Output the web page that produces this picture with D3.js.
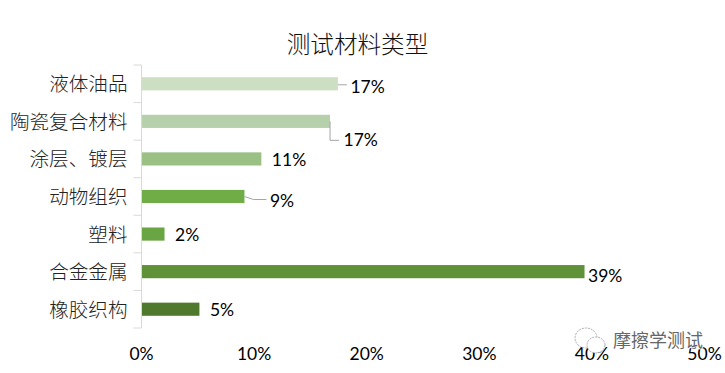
<!DOCTYPE html>
<html>
<head>
<meta charset="utf-8">
<script src="https://cdn.jsdelivr.net/npm/d3@7"></script>
<style>
  html, body { margin: 0; padding: 0; background: #fff; }
  text { font-family: "Noto Sans CJK SC", sans-serif; }
  .num { font-family: Lato, "Open Sans", sans-serif; font-size: 17.5px; fill: #000; }
  .cat { font-size: 19.6px; fill: #222; font-weight: 300; }
</style>
</head>
<body>
<svg id="chart" width="725" height="373" style="display:block"></svg>
<script>
const categories = ['液体油品', '陶瓷复合材料', '涂层、镀层', '动物组织', '塑料', '合金金属', '橡胶织构'];
const values = [17.4, 16.7, 10.6, 9.1, 2.0, 39.3, 5.1];
const valueLabels = ['17%', '17%', '11%', '9%', '2%', '39%', '5%'];
const xTicks = [0, 10, 20, 30, 40, 50];
const barColors = ['#cddfc3', '#b6d0ac', '#9bc085', '#70ad47', '#6aa543', '#5e9138', '#4f7a2e'];

// label placement relative to bar end, some have leader lines like the original
const labelDx = [13, 14, 11, 26, 11, 4, 11];
const labelDy = [2.5, 18.5, 1, 4, 0.5, 4, 0.5];
const leaders = [
  d => `M0,${d + 1}H9`,
  d => `M0,${d}V${d + 19}H9`,
  null,
  d => `M0,${d}L9,${d + 3}H22`,
  null, null, null
];

const svg = d3.select('#chart');
const margin = { top: 65, left: 141.5, right: 20.5, bottom: 45 };
const innerWidth = 725 - margin.left - margin.right;
const innerHeight = 373 - margin.top - margin.bottom;

const x = d3.scaleLinear().domain([0, 50]).range([0, innerWidth]);
const y = d3.scaleBand().domain(categories).range([0, innerHeight]).paddingInner(0.65).paddingOuter(0.325);

svg.append('text')
  .attr('x', 357.5)
  .attr('y', 53)
  .attr('text-anchor', 'middle')
  .style('font-size', '23.6px')
  .style('font-weight', 300)
  .style('fill', '#111')
  .text('测试材料类型');

const g = svg.append('g').attr('transform', `translate(${margin.left},${margin.top})`);

// category axis with ticks between the bands
const step = y.step();
const axisG = g.append('g').attr('stroke', '#d9d9d9').attr('fill', 'none');
axisG.append('path').attr('d', `M0,0V${innerHeight}`);
axisG.selectAll('line')
  .data(d3.range(categories.length + 1))
  .enter()
  .append('line')
  .attr('x1', -8)
  .attr('x2', 0)
  .attr('y1', d => d * step)
  .attr('y2', d => d * step);

g.selectAll('.cat')
  .data(categories)
  .enter()
  .append('text')
  .attr('class', 'cat')
  .attr('x', -14)
  .attr('y', d => y(d) + y.bandwidth() / 2 + 7.5)
  .attr('text-anchor', 'end')
  .text(d => d);

g.selectAll('.bar')
  .data(categories)
  .enter()
  .append('rect')
  .attr('class', 'bar')
  .attr('x', 0.5)
  .attr('y', d => y(d))
  .attr('width', (d, i) => x(values[i]))
  .attr('height', y.bandwidth())
  .attr('fill', (d, i) => barColors[i]);

categories.forEach((c, i) => {
  const mid = y(c) + y.bandwidth() / 2;
  if (leaders[i]) {
    g.append('path')
      .attr('transform', `translate(${x(values[i]) + 0.5},0)`)
      .attr('d', leaders[i](mid))
      .attr('fill', 'none')
      .attr('stroke', '#a6a6a6');
  }
  g.append('text')
    .attr('class', 'num')
    .attr('x', x(values[i]) + labelDx[i])
    .attr('y', mid + 6.5 + labelDy[i])
    .text(valueLabels[i]);
});

g.selectAll('.tick-label')
  .data(xTicks)
  .enter()
  .append('text')
  .attr('class', 'num tick-label')
  .attr('x', d => x(d))
  .attr('y', 295)
  .attr('text-anchor', 'middle')
  .text(d => d + '%');

// watermark
const wm = svg.append('g').attr('transform', 'translate(575,328)');
wm.append('ellipse').attr('cx', 11).attr('cy', 10).attr('rx', 11).attr('ry', 10)
  .attr('fill', '#fff').attr('stroke', '#aaa').attr('stroke-dasharray', '2,1');
wm.append('ellipse').attr('cx', 21).attr('cy', 17).attr('rx', 9).attr('ry', 8)
  .attr('fill', '#fff').attr('stroke', '#aaa').attr('stroke-dasharray', '2,1');
wm.append('text')
  .attr('x', 38)
  .attr('y', 19)
  .style('font-size', '18px')
  .style('fill', '#fff')
  .style('stroke', '#fff')
  .style('stroke-width', 2)
  .text('摩擦学测试');
wm.append('text')
  .attr('x', 38)
  .attr('y', 19)
  .style('font-size', '18px')
  .style('fill', '#666')
  .text('摩擦学测试');
</script>
</body>
</html>
